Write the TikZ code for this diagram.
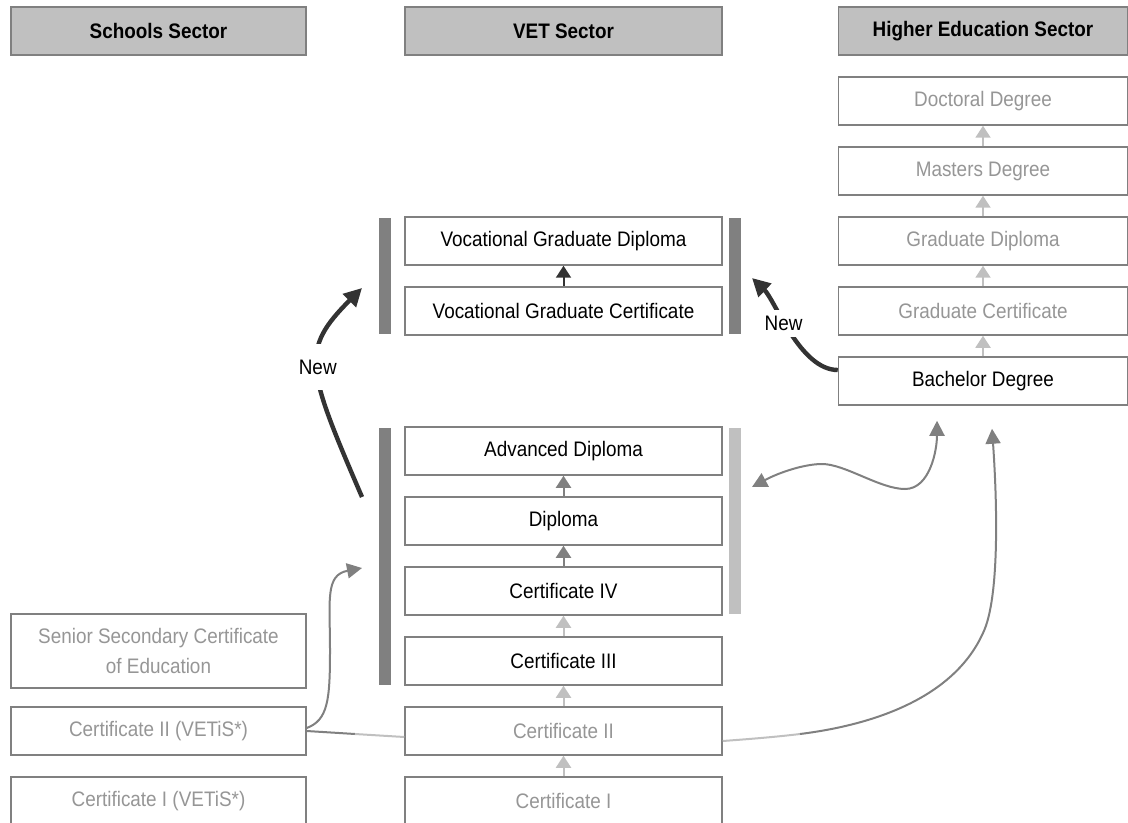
\documentclass[tikz,border=0pt]{standalone}
\usepackage{fontspec}
\setmainfont[FakeStretch=0.9]{Liberation Sans}
\usepackage{tikz}
\usepackage{xcolor}
\usetikzlibrary{calc,arrows.meta}

\definecolor{framegray}{HTML}{808080}
\definecolor{palegray}{HTML}{C0C0C0}
\definecolor{fadedtext}{HTML}{969696}
\definecolor{newgray}{HTML}{333333}

\begin{document}
\begin{tikzpicture}[x=0.5pt,y=-0.5pt]
    \tikzstyle{every node}=[inner sep=0pt, font=\fontsize{10.5}{15}\selectfont]
    \tikzstyle{sector}=[draw=framegray, fill=palegray, line width=0.75pt, minimum height=24pt, font=\fontsize{10.5}{15}\selectfont\bfseries]
    \tikzstyle{qual}=[draw=framegray, fill=white, line width=0.75pt, minimum height=24pt, align=center]
    \tikzstyle{faded}=[text=fadedtext]
    \tikzstyle{school}=[qual, minimum width=147.5pt]
    \tikzstyle{vetq}=[qual, minimum width=158.5pt]
    \tikzstyle{uni}=[qual, minimum width=144.5pt]
    \tikzstyle{up}=[line width=1pt, -{Triangle[length=6pt,width=7.5pt]}]
    \tikzstyle{route}=[line width=1pt, draw=framegray]
    \tikzstyle{newroute}=[line width=2.2pt, draw=newgray, -{Triangle[length=9pt,width=9pt]}]
    \useasboundingbox (0,0) rectangle (1128,823);
    % sector headings
    \node[sector, minimum width=147.5pt] (hschool) at (158.5,31) {Schools Sector};
    \node[sector, minimum width=158.5pt] (hvet) at (563.5,31) {VET Sector};
    \node[sector, minimum width=144.5pt] (hhigher) at (983,31) {Higher Education Sector};
    % VET sector
    \node[vetq] (vgd) at (563.5,241) {Vocational Graduate Diploma};
    \node[vetq] (vgc) at ($(vgd)+(0,70)$) {Vocational Graduate Certificate};
    \node[vetq] (adip) at ($(vgc)+(0,140)$) {Advanced Diploma};
    \node[vetq] (dip) at ($(adip)+(0,70)$) {Diploma};
    \node[vetq] (c4) at ($(dip)+(0,70)$) {Certificate IV};
    \node[vetq] (c3) at ($(c4)+(0,70)$) {Certificate III};
    \node[vetq, faded] (c2) at ($(c3)+(0,70)$) {Certificate II};
    \node[vetq, faded] (c1) at ($(c2)+(0,70)$) {Certificate I};
    % schools sector
    \node[school, faded, minimum height=37pt] (ssce) at (158.5,651) {Senior Secondary Certificate\\of Education};
    \node[school, faded] (s2) at (158.5,731) {Certificate II (VETiS*)};
    \node[school, faded] (s1) at (158.5,801) {Certificate I (VETiS*)};
    % higher education sector
    \node[uni, faded] (doc) at (983,101) {Doctoral Degree};
    \node[uni, faded] (mas) at ($(doc)+(0,70)$) {Masters Degree};
    \node[uni, faded] (gdip) at ($(mas)+(0,70)$) {Graduate Diploma};
    \node[uni, faded] (gcert) at ($(gdip)+(0,70)$) {Graduate Certificate};
    \node[uni] (bach) at ($(gcert)+(0,70)$) {Bachelor Degree};
    % steps up
    \draw[up, newgray] (vgc)--(vgd);
    \draw[up, framegray] (dip)--(adip);
    \draw[up, framegray] (c4)--(dip);
    \draw[up, palegray] (c3)--(c4);
    \draw[up, palegray] (c2)--(c3);
    \draw[up, palegray] (c1)--(c2);
    \draw[up, palegray] (bach)--(gcert);
    \draw[up, palegray] (gcert)--(gdip);
    \draw[up, palegray] (gdip)--(mas);
    \draw[up, palegray] (mas)--(doc);
    % bars beside the VET groups
    \fill[framegray] (379,218) rectangle (391,334);
    \fill[framegray] (729,218) rectangle (741,334);
    \fill[framegray] (379,428) rectangle (391,685);
    \fill[palegray] (729,428) rectangle (741,614);
    % pathways
    \coordinate (barL) at (362,568);
    \coordinate (barR) at (752,487);
    \coordinate (s2mid) at (355,734);
    \coordinate (c2mid) at (800,734);
    \draw[route, -{Triangle[length=7.5pt,width=7.5pt]}] ($(s2.east)+(0,-3)$) .. controls (328,720) and (330,700) .. (330,650) .. controls (330,600) and (325,575) .. (barL);
    \draw[route] (s2.east) -- (s2mid);
    \draw[route, palegray] (s2mid) -- ($(c2.west)+(0,6)$);
    \draw[route, palegray] ($(c2.east)+(0,10)$) .. controls (750,739) and (775,737) .. (c2mid);
    \draw[route, -{Triangle[length=7.5pt,width=7.5pt]}] (c2mid) .. controls (880,724) and (955,695) .. (983,633) .. controls (1000,598) and (997,500) .. ($(bach.south)+(9,23)$);
    \draw[route, {Triangle[length=7.5pt,width=7.5pt]}-{Triangle[length=7.5pt,width=7.5pt]}] (barR) .. controls (780,472) and (805,464) .. (822,464) .. controls (845,464) and (880,489) .. (905,489) .. controls (930,489) and (937,450) .. ($(bach.south)+(-46,15)$);
    % new routes
    \coordinate (newfrom) at (362,497);
    \coordinate (newto) at (362,288);
    \coordinate (newto2) at (752,278);
    \draw[newroute] (newfrom) .. controls (306,367) and (300,350) .. (newto) node[pos=0.5, fill=white, inner xsep=2pt, inner ysep=8pt] {New};
    \draw[newroute] ($(bach.west)+(0,-11)$) .. controls (800,370) and (775,300) .. (newto2) node[pos=0.57, fill=white, inner sep=3pt] {New};
\end{tikzpicture}
\end{document}
